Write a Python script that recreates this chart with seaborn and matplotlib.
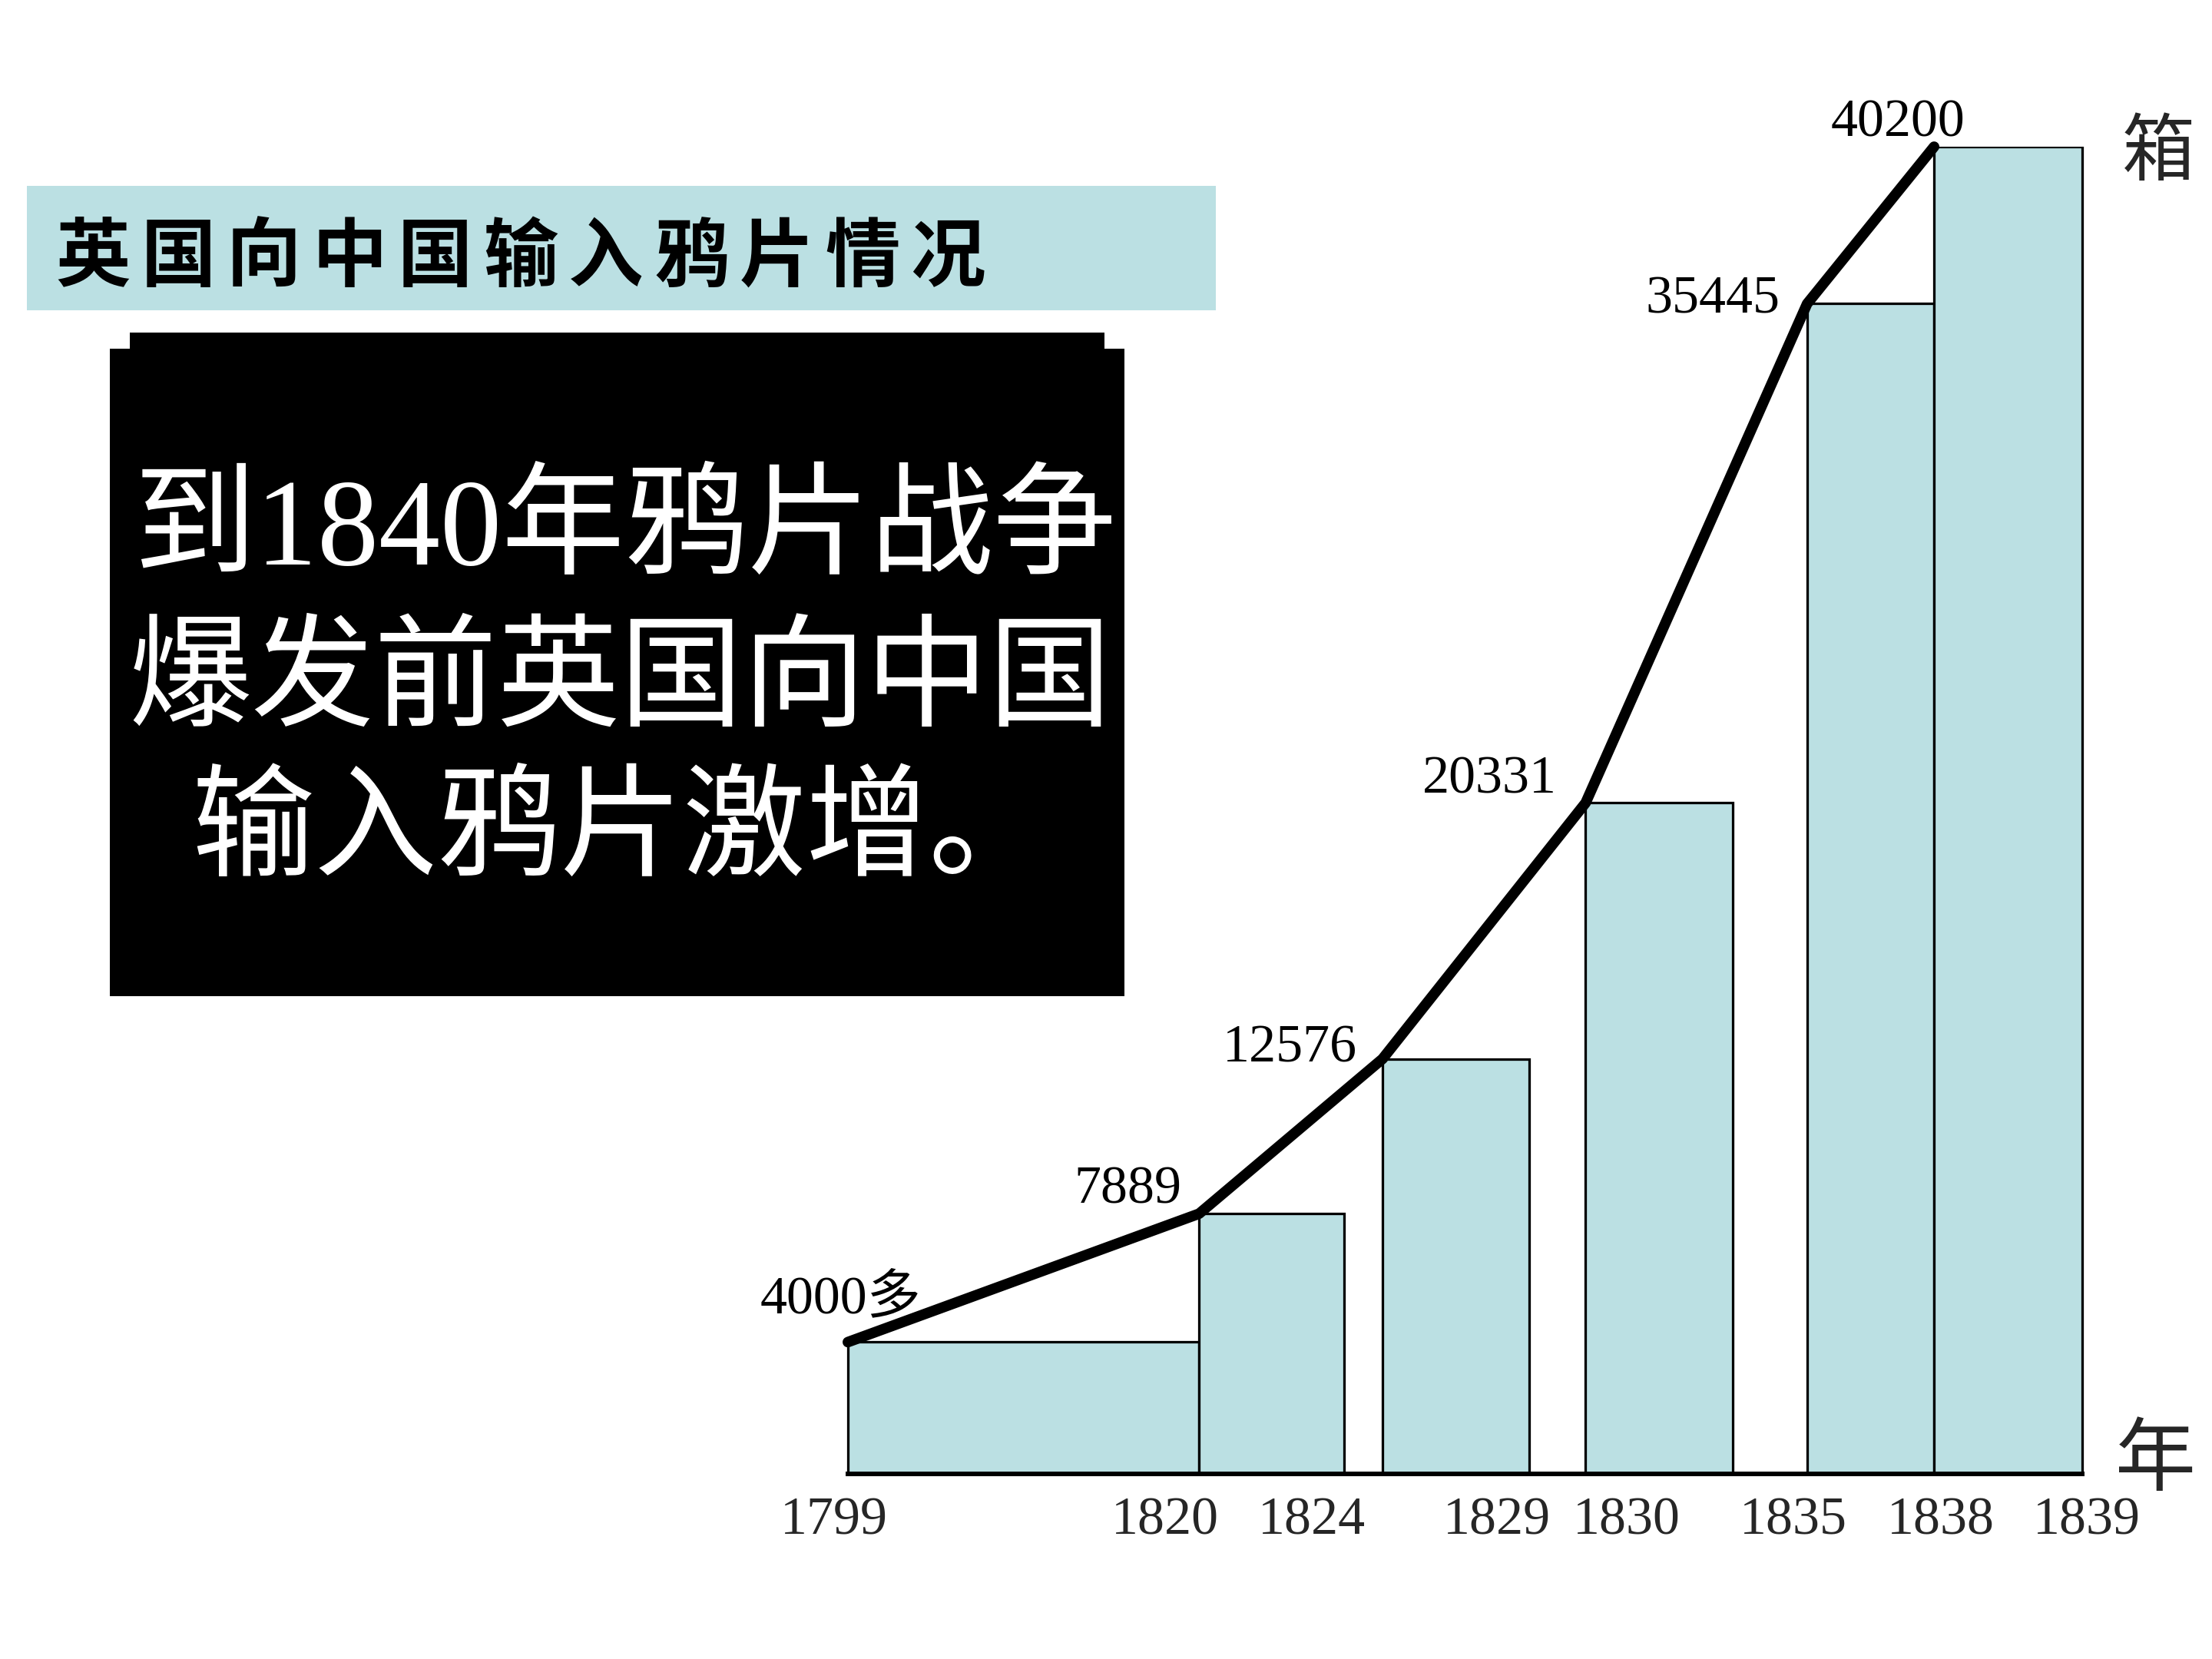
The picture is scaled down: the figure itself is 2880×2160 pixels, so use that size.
import numpy as np
import pandas as pd
import matplotlib
matplotlib.use("Agg")
import matplotlib.pyplot as plt
from matplotlib.patches import Polygon, Rectangle
import seaborn as sns

# 데이터
periods = ["1799-1820", "1820-1824", "1825-1829", "1830-1835", "1835-1838", "1838-1839"]
chests = [4000, 7889, 12576, 20331, 35445, 40200]
value_labels = ["4000多", "7889", "12576", "20331", "35445", "40200"]
year_ticks = ["1799", "1820", "1824", "1829", "1830", "1835", "1838", "1839"]

TITLE = "英国向中国输入鸦片情况"
NOTE_LINES = ["到1840年鸦片战争", "爆发前英国向中国", "输入鸦片激增。"]
UNIT_Y = "箱"
UNIT_X = "年"

# 레이아웃 (schematic x axis, arbitrary units)
bar_left = [0.0, 2.49, 3.79, 5.23, 6.80, 7.70]
bar_width = [2.49, 1.03, 1.04, 1.04, 0.90, 1.05]
tick_pos = [-0.10, 2.25, 3.29, 4.60, 5.52, 6.70, 7.75, 8.78]
label_offset = [(38, 22), (-9, 12), (-13, 5), (-15, 12), (-14, 2), (16, 12)]

BAR_COLOR = "#BBE0E3"
W, H = 1568, 1176  # reference layout grid


def fx(x):
    return x / W


def fy(y):
    return 1 - y / H


sns.set_theme(style="white")
plt.rcParams["font.family"] = ["Liberation Serif", "Noto Sans CJK SC", "DejaVu Sans"]

fig = plt.figure(figsize=(16, 12), dpi=180)
fig.patch.set_facecolor("white")

# 축
ax = fig.add_axes([fx(581), fy(1045), fx(915), (1045 - 104) / H])
ax.set_xlim(-0.2, 8.95)
ax.set_ylim(0, 40200)

ax.bar(bar_left, chests, width=bar_width, align="edge",
       color=BAR_COLOR, edgecolor="black", linewidth=1.3, zorder=2)

df = pd.DataFrame({"x": bar_left, "chests": chests})
sns.lineplot(data=df, x="x", y="chests", ax=ax, color="black",
             linewidth=5.5, sort=False, zorder=3, clip_on=False)

for xl, v, lab, off in zip(bar_left, chests, value_labels, label_offset):
    ax.annotate(lab, xy=(xl, v), xytext=off, textcoords="offset points",
                ha="right", va="center", fontsize=28, color="black",
                annotation_clip=False)

for s in ["top", "right", "left"]:
    ax.spines[s].set_visible(False)
ax.spines["bottom"].set_bounds(0, bar_left[-1] + bar_width[-1])
ax.spines["bottom"].set_linewidth(2.4)
ax.spines["bottom"].set_color("black")
ax.spines["bottom"].set_zorder(4)

ax.set_yticks([])
ax.set_xticks(tick_pos)
ax.set_xticklabels(year_ticks, fontsize=28)
ax.tick_params(axis="x", length=0, pad=12)
ax.set_xlabel("")
ax.set_ylabel("")

fig.text(fx(1530), fy(109), UNIT_Y, fontsize=38, ha="center", va="center",
         family=["Noto Sans CJK SC"])
fig.text(fx(1528), fy(1036), UNIT_X, fontsize=42, ha="center", va="center",
         family=["Noto Sans CJK SC"])

# 제목 띠
fig.patches.append(Rectangle((fx(19), fy(220)), fx(862 - 19), (220 - 132) / H,
                             transform=fig.transFigure, facecolor=BAR_COLOR,
                             edgecolor="none", zorder=0))
# 글자 간격이 넓어서 한 글자씩 배치
char_step = 60.6
for i, ch in enumerate(TITLE):
    fig.text(fx(66 + i * char_step), fy(183), ch, fontsize=39, fontweight="bold",
             ha="center", va="center", family=["Noto Sans CJK SC"], color="black")

# 검은 상자
box = [(78, 247), (92, 247), (92, 236), (783, 236), (783, 247), (797, 247),
       (797, 706), (78, 706)]
fig.patches.append(Polygon([(fx(x), fy(y)) for x, y in box], closed=True,
                           transform=fig.transFigure, facecolor="black",
                           edgecolor="none", zorder=0))
for (left, cy), line in zip([(94, 378), (91, 486), (136, 592)], NOTE_LINES):
    fig.text(fx(left), fy(cy), line, fontsize=64, color="white", ha="left",
             va="center", family=["Liberation Serif", "Noto Sans CJK SC"])

fig.savefig("out.png", dpi=180, facecolor="white")
